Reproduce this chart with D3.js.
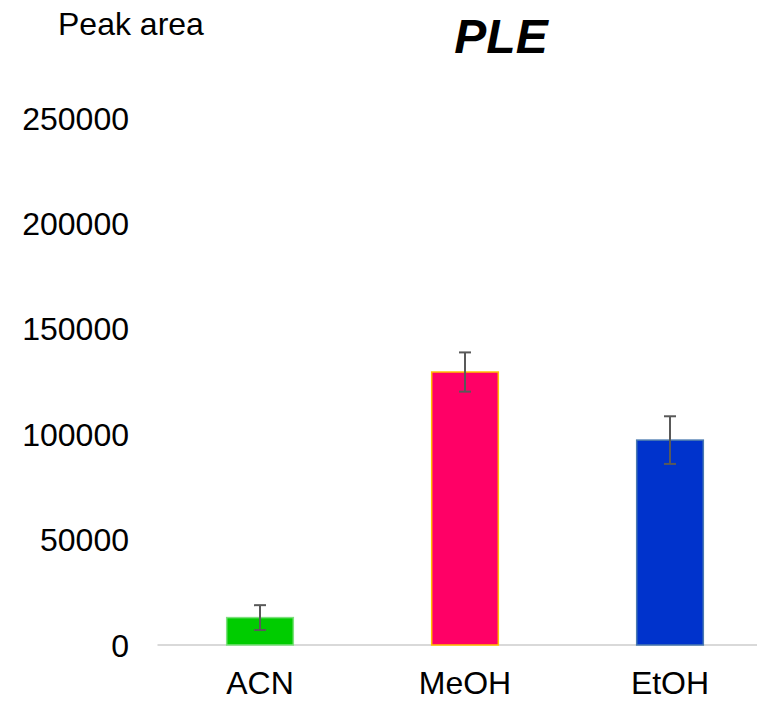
<!DOCTYPE html>
<html>
<head>
<meta charset="utf-8">
<script src="https://cdn.jsdelivr.net/npm/d3@7/dist/d3.min.js"></script>
<style>
  html, body { margin: 0; padding: 0; background: #fff; }
  svg { display: block; font-family: "Liberation Sans", Arial, sans-serif; }
</style>
</head>
<body>
<svg id="chart" width="757" height="702"></svg>
<script>
const categories = ["ACN", "MeOH", "EtOH"];
const values = [13000, 129500, 97200];
const errors = [5900, 9300, 11300];
const yTicks = [0, 50000, 100000, 150000, 200000, 250000];
const barFills = ["#00cc00", "#ff0066", "#0033cc"];
const barStrokes = ["#7ee07e", "#ffc000", "#4a7ab0"];

const svg = d3.select("#chart");
const x = d3.scaleBand().domain(categories).range([157.5, 772.5]).paddingInner(0).paddingOuter(0);
const y = d3.scaleLinear().domain([0, 250000]).range([645, 118]);
const barW = x.bandwidth() * 0.325;

// baseline
svg.append("line")
  .attr("x1", x.range()[0]).attr("x2", x.range()[1])
  .attr("y1", y(0)).attr("y2", y(0))
  .attr("stroke", "#d9d9d9").attr("stroke-width", 2);

// y tick labels
svg.append("g").selectAll("text").data(yTicks).join("text")
  .attr("x", 129).attr("y", d => y(d))
  .attr("dy", "0.36em")
  .attr("text-anchor", "end")
  .attr("font-size", 32)
  .attr("fill", "#000")
  .text(d => d);

// bars
svg.append("g").selectAll("rect").data(categories).join("rect")
  .attr("x", d => x(d) + x.bandwidth() / 2 - barW / 2)
  .attr("y", (d, i) => y(values[i]))
  .attr("width", barW)
  .attr("height", (d, i) => y(0) - y(values[i]))
  .attr("fill", (d, i) => barFills[i])
  .attr("stroke", (d, i) => barStrokes[i])
  .attr("stroke-width", 1.5);

// error bars
const eg = svg.append("g").attr("stroke", "#595959").attr("stroke-width", 2);
categories.forEach((c, i) => {
  const cx = x(c) + x.bandwidth() / 2;
  const top = y(values[i] + errors[i]);
  const bot = y(values[i] - errors[i]);
  eg.append("line").attr("x1", cx).attr("x2", cx).attr("y1", top).attr("y2", bot);
  eg.append("line").attr("x1", cx - 6).attr("x2", cx + 6).attr("y1", top).attr("y2", top);
  eg.append("line").attr("x1", cx - 6).attr("x2", cx + 6).attr("y1", bot).attr("y2", bot);
});

// x labels
svg.append("g").selectAll("text").data(categories).join("text")
  .attr("x", d => x(d) + x.bandwidth() / 2)
  .attr("y", 694)
  .attr("text-anchor", "middle")
  .attr("font-size", 32)
  .attr("fill", "#000")
  .text(d => d);

// axis title
svg.append("text")
  .attr("x", 58).attr("y", 35)
  .attr("font-size", 32)
  .attr("fill", "#000")
  .text("Peak area");

// chart title
svg.append("text")
  .attr("x", 501).attr("y", 53)
  .attr("text-anchor", "middle")
  .attr("font-size", 48)
  .attr("font-weight", "bold")
  .attr("font-style", "italic")
  .attr("fill", "#000")
  .text("PLE");
</script>
</body>
</html>
